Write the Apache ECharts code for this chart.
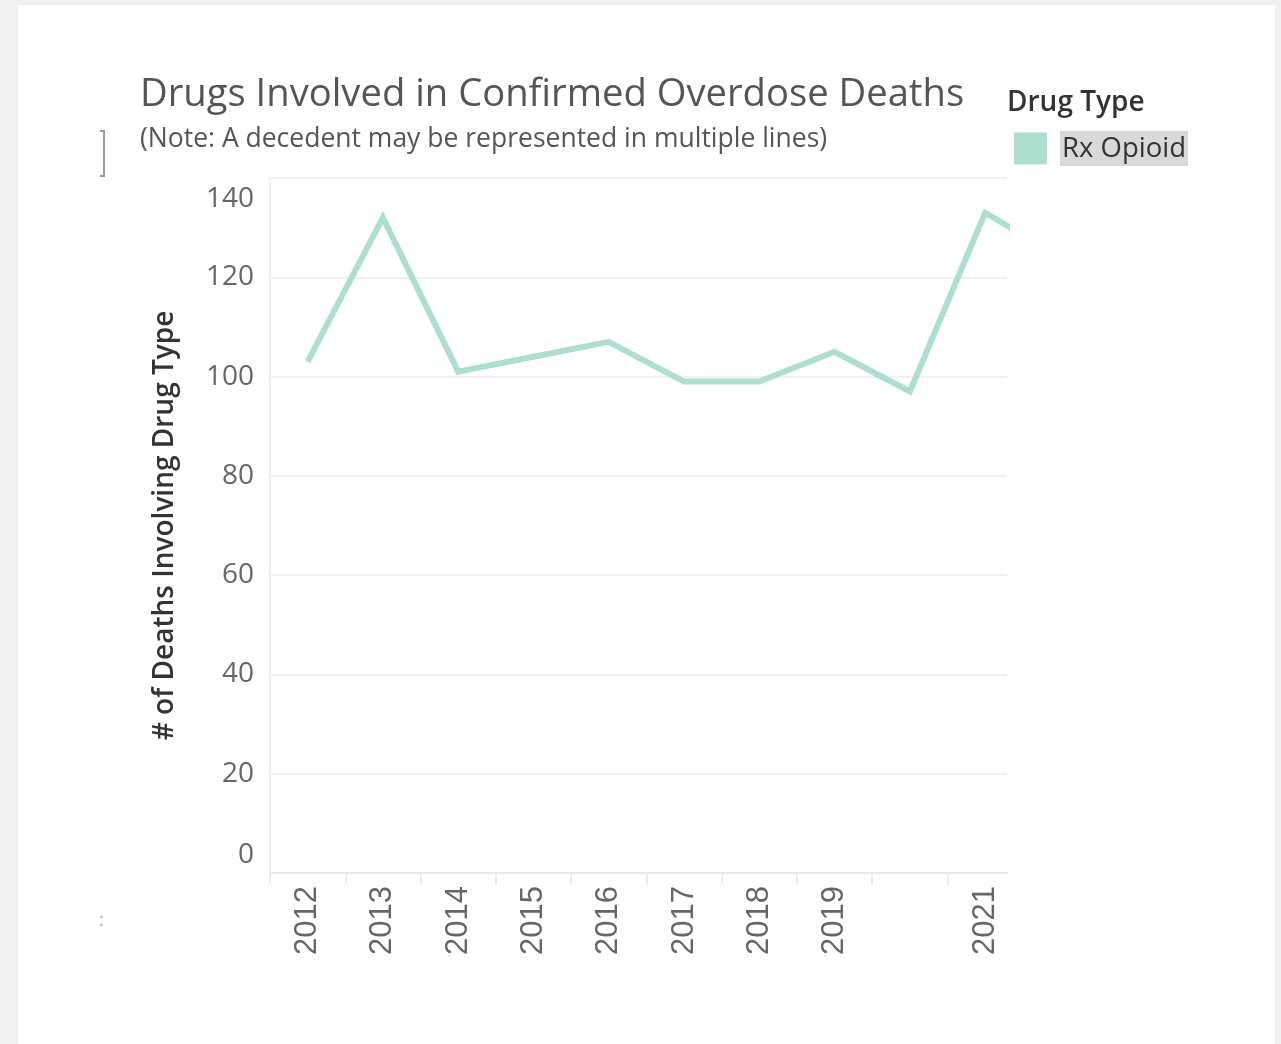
<!DOCTYPE html>
<html>
<head>
<meta charset="utf-8">
<script src="https://cdn.jsdelivr.net/npm/echarts@6/dist/echarts.min.js"></script>
<style>
  html, body { margin: 0; padding: 0; background: #f0f0f0; }
  #panel { position: absolute; left: 18px; top: 5px; width: 1257px; height: 1039px; background: #ffffff; }
  #chart { position: absolute; left: 0; top: 0; width: 1281px; height: 1044px; }
</style>
</head>
<body>
<div id="panel"></div>
<div id="chart"></div>
<script>
// ---- data ----
var years = [2012, 2013, 2014, 2015, 2016, 2017, 2018, 2019, 2020, 2021, 2022];
var rxOpioid = [103, 132, 101, 104, 107, 99, 99, 105, 97, 133, 124];
var xLabelYears = [2012, 2013, 2014, 2015, 2016, 2017, 2018, 2019, 2021];
var yTicks = [0, 20, 40, 60, 80, 100, 120, 140];
var seriesName = 'Rx Opioid';

var FONT = '"Open Sans", "Noto Sans", sans-serif';
var lineColor = '#aedfce';

var tickPositions = years.slice(0, 10).map(function (y) { return y - 0.5; });

var chart = echarts.init(document.getElementById('chart'), null, { renderer: 'canvas' });

var option = {
  backgroundColor: 'transparent',
  animation: false,
  title: [
    {
      text: 'Drugs Involved in Confirmed Overdose Deaths',
      left: 135, top: 71,
      textStyle: { fontFamily: FONT, fontSize: 38.2, fontWeight: 'normal', color: '#555555' }
    },
    {
      text: '(Note: A decedent may be represented in multiple lines)',
      left: 135, top: 121,
      textStyle: { fontFamily: FONT, fontSize: 26.5, fontWeight: 'normal', color: '#555555' }
    },
    {
      text: 'Drug Type',
      left: 1002, top: 84,
      textStyle: { fontFamily: FONT, fontSize: 28, fontWeight: 600, color: '#333333' }
    }
  ],
  legend: {
    left: 1014, top: 131,
    padding: 0,
    orient: 'vertical',
    icon: 'rect',
    itemWidth: 33, itemHeight: 32,
    itemGap: 10,
    selectedMode: false,
    data: [seriesName],
    formatter: function (name) { return '{gap|}{t|' + name + '}'; },
    textStyle: {
      fontFamily: FONT, fontSize: 27.5, color: '#333333',
      rich: {
        gap: { width: 8 },
        t: {
          fontFamily: FONT, fontSize: 27.5, color: '#333333',
          backgroundColor: '#d9d9d9',
          padding: [4, 2, 3, 2]
        }
      }
    }
  },
  grid: { left: 270, right: 274, top: 178, bottom: 171, containLabel: false },
  xAxis: {
    type: 'value',
    min: 2011.5,
    max: 2021.29,
    splitLine: { show: false },
    axisLine: { show: true, lineStyle: { color: '#e8e8e8', width: 2 } },
    axisTick: { show: true, customValues: tickPositions, length: 12, lineStyle: { color: '#ececec', width: 2 } },
    axisLabel: {
      customValues: xLabelYears,
      rotate: 90,
      margin: 13,
      fontFamily: '"Liberation Sans", Arial, sans-serif',
      fontSize: 31,
      color: '#666666',
      formatter: function (v) { return String(v); }
    }
  },
  yAxis: {
    type: 'value',
    min: 0, max: 140, interval: 20,
    name: '# of Deaths Involving Drug Type',
    nameLocation: 'middle',
    nameRotate: 90,
    nameGap: 91,
    nameTextStyle: { fontFamily: FONT, fontSize: 28, fontWeight: 600, color: '#333333' },
    axisLine: { show: true, lineStyle: { color: '#eeeeee', width: 2 } },
    axisTick: { show: false },
    splitLine: { show: true, lineStyle: { color: '#f1f1f1', width: 2 } },
    axisLabel: {
      customValues: yTicks,
      margin: 16,
      fontFamily: FONT,
      fontSize: 28,
      color: '#666666',
      verticalAlignMinLabel: 'bottom',
      verticalAlignMaxLabel: 'top',
      formatter: function (v) {
        if (v === 140) { return '{mx|' + v + '}'; }
        if (v === 0) { return '{mn|' + v + '}'; }
        return String(v);
      },
      rich: {
        mx: { fontFamily: FONT, fontSize: 28, color: '#666666', padding: [7, 0, 0, 0] },
        mn: { fontFamily: FONT, fontSize: 28, color: '#666666', padding: [0, 0, 4, 0] }
      }
    }
  },
  series: [
    {
      name: seriesName,
      type: 'line',
      data: years.map(function (y, i) { return [y, rxOpioid[i]]; }),
      symbol: 'none',
      clip: true,
      color: lineColor,
      lineStyle: { color: lineColor, width: 6, join: 'miter' }
    }
  ],
  graphic: [
    {
      type: 'polyline',
      shape: { points: [[100, 131], [104, 131], [104, 176], [100, 176]] },
      style: { stroke: '#9a9a9a', lineWidth: 2, fill: null }
    },
    {
      type: 'text', left: 99, top: 912,
      style: { text: ':', fontFamily: FONT, fontSize: 18, fill: '#aaaaaa' }
    }
  ]
};

chart.setOption(option);
</script>
</body>
</html>
